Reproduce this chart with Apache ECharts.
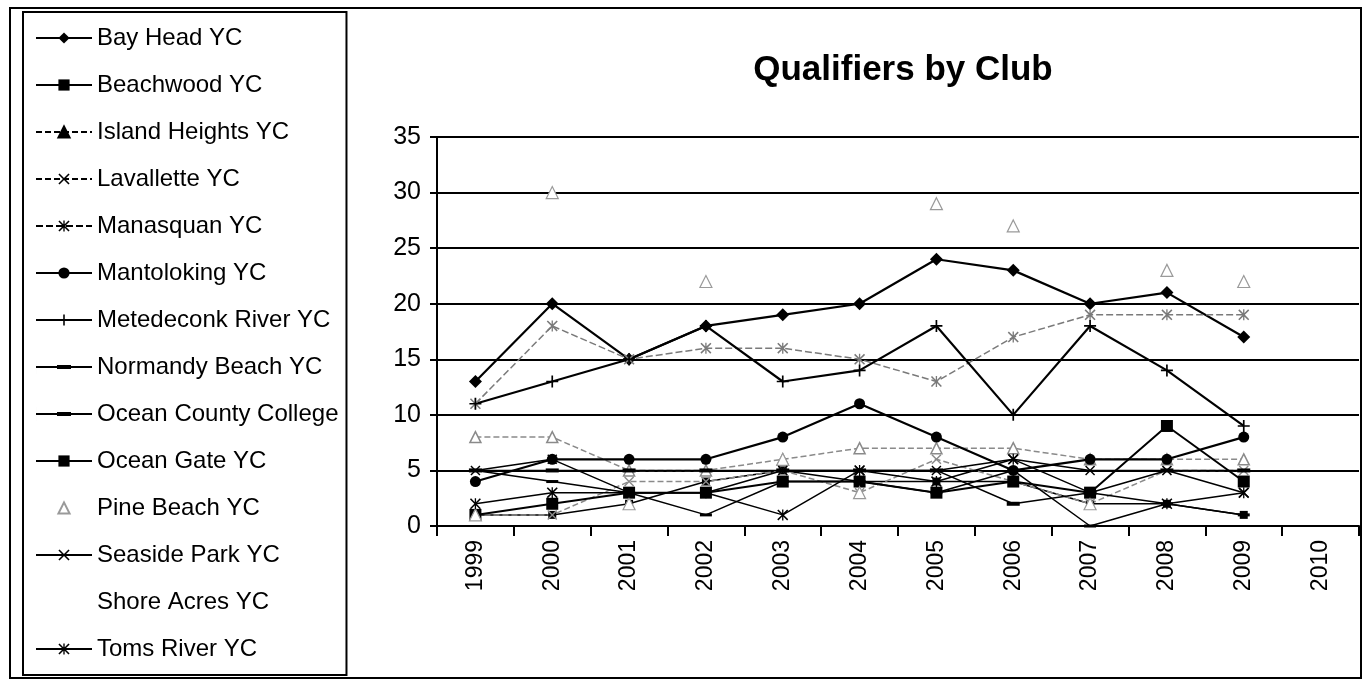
<!DOCTYPE html>
<html>
<head>
<meta charset="utf-8">
<script src="https://cdn.jsdelivr.net/npm/echarts@6/dist/echarts.min.js"></script>
<style>
  html, body { margin: 0; padding: 0; background: #fff; }
  #chart { width: 1365px; height: 682px; }
</style>
</head>
<body>
<div id="chart"></div>
<script>
// years on the category axis (2010 has no data)
const years = ["1999", "2000", "2001", "2002", "2003", "2004", "2005", "2006", "2007", "2008", "2009", "2010"];

// qualifiers per club (1999..2009)
const bayHead       = [13, 20, 15, 18, 19, 20, 24, 23, 20, 21, 17];
const beachwood     = [1, 1, 2, 4, 5, 4, 4, 4, 2, 2, 1];
const islandHeights = [8, 8, 5, 5, 6, 7, 7, 7, 6, 6, 6];
const lavallette    = [1, 1, 4, 4, 5, 3, 6, 4, 2, 5, 5];
const manasquan     = [11, 18, 15, 16, 16, 15, 13, 17, 19, 19, 19];
const mantoloking   = [4, 6, 6, 6, 8, 11, 8, 5, 6, 6, 8];
const metedeconk    = [11, 13, 15, 18, 13, 14, 18, 10, 18, 14, 9];
const normandyBeach = [5, 4, 3, 1, 4, 4, 3, 5, 0, 2, 1];
const oceanCounty   = [5, 5, 5, 5, 5, 5, 5, 2, 3, 5, 5];
const oceanGate     = [1, 2, 3, 3, 4, 4, 3, 4, 3, 9, 4];
const pineBeach     = [1, 30, 2, 22, 6, 3, 29, 27, 2, 23, 22];
const seasidePark   = [5, 6, 3, 3, 5, 5, 5, 6, 5, 5, 3];
const shoreAcres    = [];
const tomsRiver     = [2, 3, 3, 3, 1, 5, 4, 6, 3, 2, 3];

const yTicks = { min: 0, max: 35, step: 5 };

// marker shapes Excel used
const X_MARK = "path://M0,1L1,0L5,4L9,0L10,1L6,5L10,9L9,10L5,6L1,10L0,9L4,5Z";
const STAR_MARK = X_MARK + "M4.4,0H5.6V10H4.4Z";
const PLUS_MARK = "path://M4.3,0H5.7V4.3H10V5.7H5.7V10H4.3V5.7H0V4.3H4.3Z";
const DASH_MARK = "path://M0,0H12V3H0Z";
// legend key: line across with a short thick dash in the middle
const DASH_ICON = "path://M0,0L0.01,0L0.01,14L0,14ZM0,6H56V8H0ZM21,5H35V9H21Z";

function line(name, data, symbol, size, opts) {
  opts = opts || {};
  const color = opts.color || "#000";
  return {
    name: name,
    type: "line",
    data: data,
    symbol: symbol,
    symbolSize: size,
    symbolKeepAspect: false,
    showAllSymbol: true,
    animation: false,
    itemStyle: {
      color: opts.fill || color,
      borderColor: color,
      borderWidth: opts.border || 0
    },
    lineStyle: {
      color: color,
      width: opts.width || 2,
      type: opts.type || "solid",
      opacity: opts.lineOpacity == null ? 1 : opts.lineOpacity
    },
    emphasis: { disabled: true }
  };
}

const series = [
  line("Bay Head YC", bayHead, "diamond", 13, { width: 2.2 }),
  line("Beachwood YC", beachwood, "rect", 8, { width: 1.5 }),
  line("Island Heights YC", islandHeights, "triangle", 11, { color: "#8a8a8a", type: [6, 3], width: 1.5, fill: "#fff", border: 1.5 }),
  line("Lavallette YC", lavallette, X_MARK, 10, { color: "#8a8a8a", type: [6, 3], width: 1.5 }),
  line("Manasquan YC", manasquan, STAR_MARK, 11, { color: "#7a7a7a", type: [7, 3], width: 1.5 }),
  line("Mantoloking YC", mantoloking, "circle", 11, { width: 2.2 }),
  line("Metedeconk River YC", metedeconk, PLUS_MARK, 12, { width: 2.2 }),
  line("Normandy Beach YC", normandyBeach, DASH_MARK, [12, 3], { width: 1.5 }),
  line("Ocean County College", oceanCounty, DASH_MARK, [13, 4], { width: 1.5 }),
  line("Ocean Gate YC", oceanGate, "rect", 12, { width: 2 }),
  line("Pine Beach YC", pineBeach, "triangle", 12, { color: "#9a9a9a", fill: "#fff", border: 1.2, lineOpacity: 0 }),
  line("Seaside Park YC", seasidePark, X_MARK, 10, { width: 1.5 }),
  line("Shore Acres YC", shoreAcres, "none", 0, { lineOpacity: 0 }),
  line("Toms River YC", tomsRiver, STAR_MARK, 11, { width: 1.5 })
];

// legend keys: the scan shows them in black, Shore Acres has none
const legendData = series.map(s => {
  const item = { name: s.name };
  if (s.name === "Normandy Beach YC" || s.name === "Ocean County College") {
    item.icon = DASH_ICON;
  } else if (s.name === "Shore Acres YC") {
    item.icon = "rect";
    item.itemStyle = { color: "rgba(0,0,0,0)", borderWidth: 0 };
  } else if (["Island Heights YC", "Lavallette YC", "Manasquan YC"].includes(s.name)) {
    item.itemStyle = { color: "#000", borderColor: "#000" };
    item.lineStyle = { color: "#000" };
  }
  return item;
});

const chart = echarts.init(document.getElementById("chart"), null, { renderer: "canvas" });

chart.setOption({
  backgroundColor: "#fff",
  animation: false,
  textStyle: { fontFamily: "Liberation Sans, Arial, sans-serif", color: "#000" },
  title: {
    text: "Qualifiers by Club",
    left: 898,
    top: 48,
    textAlign: "center",
    textStyle: { fontSize: 35, fontWeight: "bold", color: "#000", fontFamily: "Liberation Sans, Arial, sans-serif" }
  },
  legend: {
    orient: "vertical",
    left: 23,
    top: 12,
    padding: [14, 8, 14, 12],
    borderColor: "#000",
    borderWidth: 2,
    itemWidth: 56,
    itemHeight: 14,
    itemGap: 23,
    selectedMode: false,
    textStyle: { fontSize: 24, lineHeight: 24, color: "#000", fontFamily: "Liberation Sans, Arial, sans-serif" },
    data: legendData
  },
  grid: { left: 437, right: 6, top: 137, bottom: 156, containLabel: false },
  xAxis: {
    type: "category",
    data: years,
    boundaryGap: true,
    axisLine: { lineStyle: { color: "#000", width: 2 } },
    axisTick: { show: true, length: 10, lineStyle: { color: "#000", width: 2 } },
    axisLabel: { rotate: 90, fontSize: 23, color: "#000", margin: 14 },
    splitLine: { show: false }
  },
  yAxis: {
    type: "value",
    min: yTicks.min,
    max: yTicks.max,
    interval: yTicks.step,
    axisLine: { show: true, lineStyle: { color: "#000", width: 2 } },
    axisTick: { show: true, length: 7, lineStyle: { color: "#000", width: 2 } },
    axisLabel: { fontSize: 25, color: "#000", margin: 16 },
    splitLine: { show: true, lineStyle: { color: "#000", width: 2 } }
  },
  graphic: [{
    type: "rect",
    shape: { x: 10, y: 8, width: 1351, height: 670 },
    style: { fill: "none", stroke: "#000", lineWidth: 2 },
    silent: true,
    z: -1
  }],
  series: series
});
</script>
</body>
</html>
